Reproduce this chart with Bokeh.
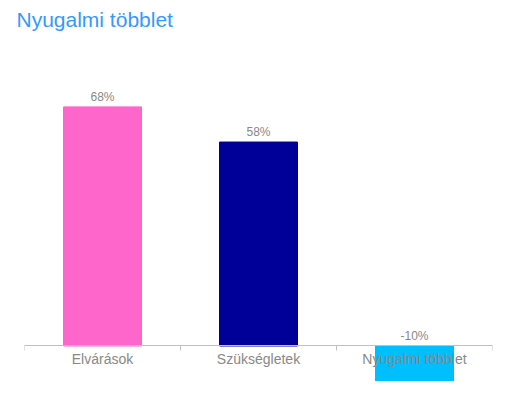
from bokeh.plotting import figure
from bokeh.models import ColumnDataSource, LabelSet, Range1d, FixedTicker
from bokeh.core.properties import value
from bokeh.embed import file_html
from bokeh.resources import INLINE

categories = ["Elvárások", "Szükségletek", "Nyugalmi többlet"]
values = [68, 58, -10]
colors = ["#FF66CC", "#000099", "#00BFFF"]

xpos = [i + 0.5 for i in range(len(categories))]
label_y = [max(v, 0) for v in values]
labels = [f"{v}%" for v in values]

src = ColumnDataSource(dict(x=xpos, top=values, color=colors, ly=label_y, lab=labels))

p = figure(frame_width=468, frame_height=346, output_backend="svg", toolbar_location=None,
           x_range=Range1d(0, len(categories)), y_range=Range1d(-10.1, 88.3),
           min_border_left=24, min_border_right=6, min_border_top=0, min_border_bottom=0)
p.title.text = "Nyugalmi többlet"
p.title.text_font = "Liberation Sans"
p.title.text_font_size = "21px"
p.title.text_font_style = "normal"
p.title.text_color = "#3399FF"
p.title.offset = -8

p.vbar(x="x", top="top", bottom=0, width=0.5, color="color", source=src)

p.add_layout(LabelSet(x="x", y="ly", text="lab", source=src, text_align="center",
                      text_baseline="bottom", y_offset=3, text_font=value("Liberation Sans"),
                      text_font_size=value("12px"), text_color="#888888"))

p.yaxis.visible = False
p.grid.visible = False
p.outline_line_color = None

ax = p.xaxis[0]
ax.fixed_location = 0
ax.ticker = FixedTicker(ticks=xpos, minor_ticks=list(range(len(categories) + 1)))
ax.major_label_overrides = {x: c for x, c in zip(xpos, categories)}
ax.major_tick_line_color = None
ax.major_tick_out = 0
ax.minor_tick_out = 5
ax.minor_tick_in = 0
ax.minor_tick_line_color = "#c0c0c0"
ax.axis_line_color = "#c0c0c0"
ax.major_label_standoff = 0
ax.major_label_text_font = "Liberation Sans"
ax.major_label_text_font_size = "14px"
ax.major_label_text_color = "#888888"

open("out.html", "w").write(file_html(p, INLINE))
